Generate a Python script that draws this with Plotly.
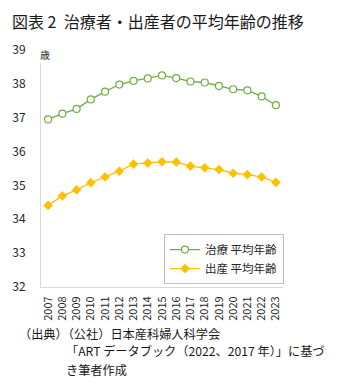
import plotly.graph_objects as go

years = [str(y) for y in range(2007, 2024)]
treatment_age = [36.95, 37.12, 37.26, 37.54, 37.77, 37.98, 38.09, 38.16, 38.25,
                 38.17, 38.07, 38.04, 37.94, 37.84, 37.81, 37.63, 37.37]
birth_age = [34.41, 34.69, 34.87, 35.08, 35.25, 35.42, 35.63, 35.66, 35.70,
             35.69, 35.57, 35.52, 35.47, 35.36, 35.32, 35.25, 35.09]
series_names = ["治療 平均年齢", "出産 平均年齢"]
y_ticks = list(range(32, 40))

FONT = "Noto Sans CJK JP"
W, H = 344, 390
L, R, T, B = 39, 283, 49.5, 287

def px_x(px):
    return (px - L) / (R - L)

def px_y(py):
    return (B - py) / (B - T)

fig = go.Figure()
fig.add_trace(go.Scatter(
    x=years, y=treatment_age, name=series_names[0], mode="lines+markers",
    line=dict(color="#70AD47", width=1.3),
    marker=dict(symbol="circle", size=7, color="white",
                line=dict(color="#70AD47", width=1.2)),
))
fig.add_trace(go.Scatter(
    x=years, y=birth_age, name=series_names[1], mode="lines+markers",
    line=dict(color="#FFC000", width=1.3),
    marker=dict(symbol="diamond", size=7, color="#FFC000",
                line=dict(color="#FFC000", width=0.5)),
))

footnotes = [
    ("（出典）（公社）日本産科婦人科学会", 16, 334),
    ("「ART データブック（2022、2017 年）」に基づ", 63, 351),
    ("き筆者作成", 63, 370),
]

annotations = [
    dict(text="歳", xref="paper", yref="paper", x=px_x(43), y=px_y(54),
         xanchor="center", yanchor="middle", showarrow=False,
         bgcolor="white", font=dict(family=FONT, size=10, color="#262626")),
]
for txt, xp, yp in footnotes:
    annotations.append(dict(text=txt, xref="paper", yref="paper",
                            x=px_x(xp), y=px_y(yp), xanchor="left", yanchor="middle",
                            showarrow=False, align="left", borderpad=0,
                            font=dict(family=FONT, size=12.2, color="#1a1a1a")))

fig.update_layout(
    width=W, height=H,
    margin=dict(l=L, r=W - R, t=T, b=H - B, pad=0),
    paper_bgcolor="white", plot_bgcolor="white",
    font=dict(family=FONT, color="#262626", size=12),
    title=dict(text="図表 2  治療者・出産者の平均年齢の推移",
               font=dict(family=FONT, size=16, color="#1a1a1a"),
               xref="container", yref="container",
               x=12 / W, xanchor="left", y=1 - 22 / H, yanchor="middle"),
    showlegend=True,
    legend=dict(x=px_x(163), y=px_y(234), xanchor="left", yanchor="top",
                bgcolor="white", bordercolor="#BFBFBF", borderwidth=1,
                font=dict(family=FONT, size=11.5, color="#262626"),
                itemwidth=30, tracegroupgap=0),
    xaxis=dict(type="category", range=[-0.5, len(years) - 0.5],
               showline=True, linecolor="#D9D9D9", linewidth=1,
               showgrid=False, zeroline=False, ticks="",
               tickangle=-90, tickfont=dict(family=FONT, size=11, color="#262626"),
               ticklabelstandoff=4),
    yaxis=dict(range=[32, 39], tickvals=y_ticks, ticktext=[str(v) for v in y_ticks],
               showline=True, linecolor="#D9D9D9", linewidth=1,
               showgrid=False, zeroline=False, ticks="",
               tickfont=dict(family=FONT, size=12, color="#262626"),
               ticklabelstandoff=12),
    annotations=annotations,
)

fig.write_html("out.html")
